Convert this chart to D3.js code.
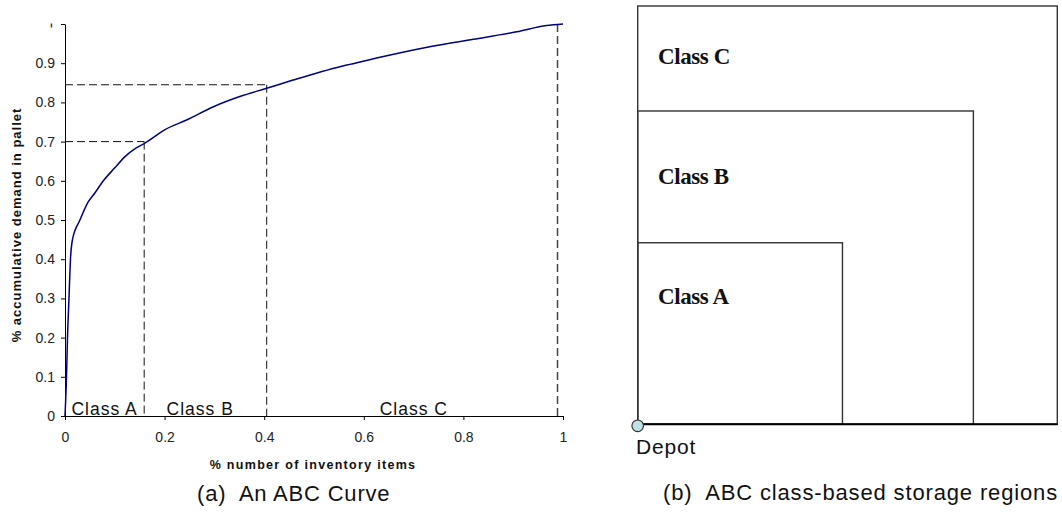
<!DOCTYPE html>
<html>
<head>
<meta charset="utf-8">
<script src="https://cdn.jsdelivr.net/npm/d3@7"></script>
<style>
  body { margin: 0; background: #fff; }
  text { font-family: "Liberation Sans", Arial, sans-serif; }
</style>
</head>
<body>
<div id="chart"></div>
<script>
// ABC curve: share of items (x) vs accumulated demand (y)
const curveX = [0, 0.003, 0.005, 0.008, 0.011, 0.015, 0.03, 0.046, 0.06, 0.077, 0.1, 0.12, 0.143, 0.159,
  0.2, 0.244, 0.298, 0.351, 0.405, 0.458, 0.552, 0.572, 0.653, 0.74, 0.82, 0.907, 0.967, 1.0];
const curveY = [0, 0.1, 0.2, 0.3, 0.4, 0.45, 0.5, 0.545, 0.569, 0.6, 0.633, 0.661, 0.684, 0.695,
  0.73, 0.755, 0.789, 0.815, 0.836, 0.857, 0.891, 0.897, 0.921, 0.944, 0.961, 0.98, 0.996, 1.0];

// class cut-offs (dashed guides)
const cutX = [0.159, 0.405, 0.989];
const cutY = [0.70, 0.845, 1.0];
const cutHorizontal = [true, true, false];
const classNames = ["Class A", "Class B", "Class C"];
const classLabelX = [0.013, 0.204, 0.632];

const yTicks = [0, 0.1, 0.2, 0.3, 0.4, 0.5, 0.6, 0.7, 0.8, 0.9, 1];
const xTicks = [0, 0.2, 0.4, 0.6, 0.8, 1];

// storage regions (fraction of the full area), innermost first
const regionNames = ["Class A", "Class B", "Class C"];
const regionW = [0.488, 0.8, 1];
const regionH = [0.434, 0.749, 1];

const W = 1062, H = 512;
const svg = d3.select("#chart").append("svg")
  .attr("width", W)
  .attr("height", H);

// ---------- left: ABC curve ----------
const x = d3.scaleLinear().domain([0, 1]).range([65, 563]);
const y = d3.scaleLinear().domain([0, 1]).range([416, 24]);
const fmt = d3.format("~g");

const yAxis = svg.append("g")
  .attr("transform", `translate(${x(0)},0)`)
  .call(d3.axisLeft(y).tickValues(yTicks).tickSize(4).tickSizeOuter(0).tickPadding(6).tickFormat(fmt));
yAxis.select(".domain").attr("stroke", "#000");
yAxis.selectAll("text").attr("font-size", 14).attr("fill", "#222").attr("font-family", "Liberation Sans");

// top label "1" is cut off in the original, only a sliver shows
svg.append("clipPath").attr("id", "topclip")
  .append("rect").attr("x", -20).attr("y", -1).attr("width", 20).attr("height", 4);
yAxis.selectAll(".tick").filter(d => d === 1)
  .select("text").attr("clip-path", "url(#topclip)");

const xAxis = svg.append("g")
  .attr("transform", `translate(0,${y(0)})`)
  .call(d3.axisBottom(x).tickValues(xTicks).tickSize(4).tickSizeOuter(0).tickPadding(12).tickFormat(fmt));
xAxis.select(".domain").attr("stroke", "#000");
xAxis.selectAll("text").attr("font-size", 14).attr("fill", "#222").attr("font-family", "Liberation Sans");

// dashed guides
cutX.forEach((cx, i) => {
  if (cutHorizontal[i]) {
    svg.append("line")
      .attr("x1", x(0)).attr("x2", x(cx))
      .attr("y1", y(cutY[i])).attr("y2", y(cutY[i]))
      .attr("stroke", "#111").attr("stroke-width", 1)
      .attr("stroke-dasharray", "8,4");
  }
  svg.append("line")
    .attr("x1", x(cx)).attr("x2", x(cx))
    .attr("y1", y(cutY[i])).attr("y2", y(0))
    .attr("stroke", cutHorizontal[i] ? "#111" : "#444").attr("stroke-width", cutHorizontal[i] ? 1 : 1.5)
    .attr("stroke-dasharray", "8,4");
});

const pts = curveX.map((v, i) => [v, curveY[i]]);
svg.append("path")
  .datum(pts)
  .attr("fill", "none")
  .attr("stroke", "#000080")
  .attr("stroke-width", 1.5)
  .attr("d", d3.line().curve(d3.curveMonotoneX).x(d => x(d[0])).y(d => y(d[1])));

classNames.forEach((name, i) => {
  svg.append("text")
    .attr("x", x(classLabelX[i]))
    .attr("y", y(0) - 1)
    .attr("font-size", 17.5)
    .attr("letter-spacing", 1)
    .attr("fill", "#111")
    .text(name);
});

svg.append("text")
  .attr("x", 313).attr("y", 469)
  .attr("text-anchor", "middle")
  .attr("font-size", 12.5).attr("font-weight", "bold")
  .attr("letter-spacing", 1.3)
  .attr("fill", "#111")
  .text("% number of inventory items");

svg.append("text")
  .attr("transform", `translate(21,${(y(0) + y(1)) / 2 + 5}) rotate(-90)`)
  .attr("text-anchor", "middle")
  .attr("font-size", 13).attr("font-weight", "bold")
  .attr("letter-spacing", 1)
  .attr("fill", "#111")
  .text("% accumulative demand in pallet");

svg.append("text")
  .attr("x", 197).attr("y", 501)
  .attr("font-size", 22)
  .attr("letter-spacing", 0.8)
  .style("white-space", "pre")
  .attr("fill", "#111")
  .text("(a)  An ABC Curve");

// ---------- right: storage regions ----------
const rx = d3.scaleLinear().domain([0, 1]).range([637.7, 1057.3]);
const ry = d3.scaleLinear().domain([0, 1]).range([424.3, 6]);

regionNames.slice().reverse().forEach((name, k) => {
  const i = regionNames.length - 1 - k;
  svg.append("rect")
    .attr("x", rx(0))
    .attr("y", ry(regionH[i]))
    .attr("width", rx(regionW[i]) - rx(0))
    .attr("height", ry(0) - ry(regionH[i]))
    .attr("fill", "none")
    .attr("stroke", "#333")
    .attr("stroke-width", 1.4);
});

svg.append("line")
  .attr("x1", rx(0)).attr("x2", rx(1))
  .attr("y1", ry(0)).attr("y2", ry(0))
  .attr("stroke", "#000").attr("stroke-width", 2);

const labelBase = [304, 184, 64];
regionNames.forEach((name, i) => {
  svg.append("text")
    .attr("x", 658)
    .attr("y", labelBase[i])
    .style("font-family", "'Liberation Serif', 'Times New Roman', serif")
    .attr("font-weight", "bold")
    .attr("font-size", 23)
    .attr("letter-spacing", -0.4)
    .attr("fill", "#111")
    .text(name);
});

svg.append("circle")
  .attr("cx", rx(0)).attr("cy", ry(0) + 1.5)
  .attr("r", 5.8)
  .attr("fill", "#bfe2e6")
  .attr("stroke", "#333")
  .attr("stroke-width", 1.2);

svg.append("text")
  .attr("x", 636).attr("y", 454)
  .attr("font-size", 21)
  .attr("letter-spacing", 0.8)
  .attr("fill", "#111")
  .text("Depot");

svg.append("text")
  .attr("x", 663).attr("y", 500)
  .attr("font-size", 22)
  .attr("letter-spacing", 0.85)
  .style("white-space", "pre")
  .attr("fill", "#111")
  .text("(b)  ABC class-based storage regions");
</script>
</body>
</html>
